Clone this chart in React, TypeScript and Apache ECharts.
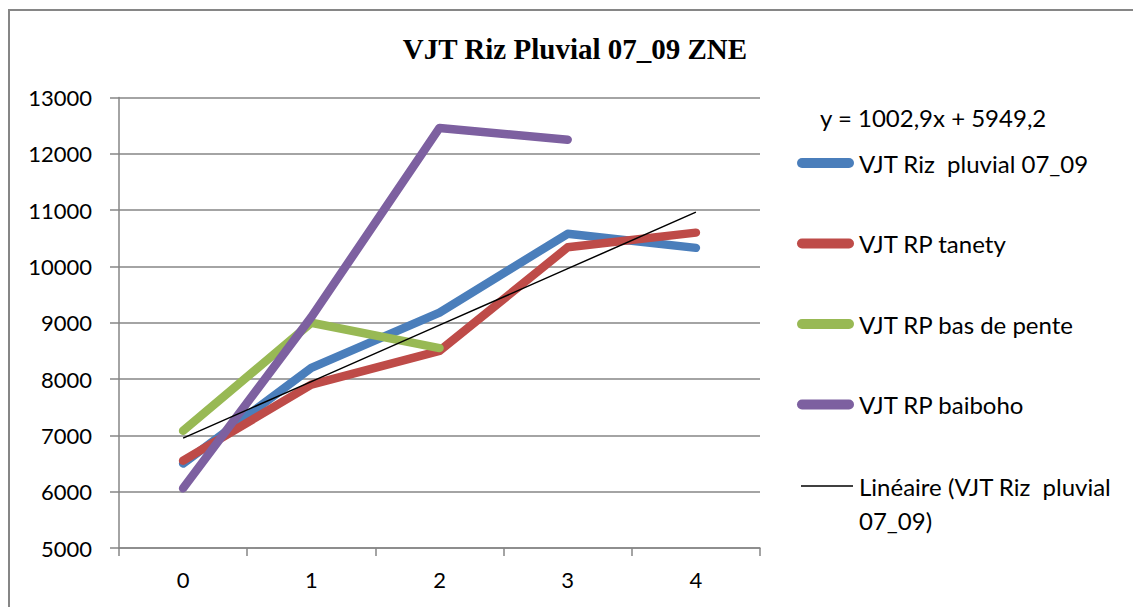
import React, { useEffect, useRef } from "react";
import * as echarts from "echarts";

const categories = ["0", "1", "2", "3", "4"];
const rizPluvial = [6500, 8200, 9180, 10580, 10330];
const rpTanety = [6550, 7900, 8500, 10340, 10600];
const rpBasDePente = [7080, 9000, 8550, null, null];
const rpBaiboho = [6060, 9100, 12460, 12250, null];
const trendValues = [6952.1, 7955.0, 8957.9, 9960.8, 10963.7];
const seriesNames = ["VJT Riz  pluvial 07_09", "VJT RP tanety", "VJT RP bas de pente", "VJT RP baiboho"];
const trendName = "Linéaire (VJT Riz  pluvial 07_09)";
const equationText = "y = 1002,9x + 5949,2";
const titleText = "VJT Riz Pluvial 07_09 ZNE";

const colors = ["#4A7EBB", "#BE4B48", "#98B954", "#7D60A0"];
const FONT = "Lato, 'Open Sans', sans-serif";
const capsule = "path://M5,0 L52,0 A5,5 0 0 1 52,10 L5,10 A5,5 0 0 1 5,0 Z";

export default function App() {
  const ref = useRef<HTMLDivElement>(null);
  useEffect(() => {
    document.body.style.margin = "0";
    const chart = echarts.init(ref.current!, null, { renderer: "svg" });
    const values = [rizPluvial, rpTanety, rpBasDePente, rpBaiboho];
    const lineSeries = values.map((d, i) => ({
      name: seriesNames[i],
      type: "line",
      data: d,
      symbol: "none",
      lineStyle: { color: colors[i], width: 8.5, cap: "round", join: "round" },
      itemStyle: { color: colors[i] },
      z: 2,
    }));
    chart.setOption({
      animation: false,
      backgroundColor: "#ffffff",
      grid: { left: 119, right: 373, top: 97.5, bottom: 59 },
      legend: {
        orient: "vertical",
        left: 792,
        top: 146,
        data: seriesNames.map((n) => ({ name: n, icon: capsule })),
        itemWidth: 57,
        itemHeight: 10,
        itemGap: 56.5,
        selectedMode: false,
        textStyle: { fontFamily: FONT, fontSize: 24, color: "#000", lineHeight: 24 },
      },
      xAxis: {
        type: "category",
        data: categories,
        boundaryGap: true,
        axisLine: { lineStyle: { color: "#868686", width: 1.5 } },
        axisTick: { show: true, alignWithLabel: false, length: 8, lineStyle: { color: "#868686", width: 1.5 } },
        axisLabel: { fontFamily: FONT, fontSize: 22, color: "#000", margin: 20 },
      },
      yAxis: {
        type: "value",
        min: 5000,
        max: 13000,
        interval: 1000,
        axisLine: { show: true, lineStyle: { color: "#868686", width: 1.5 } },
        axisTick: { show: true, length: 9, lineStyle: { color: "#868686", width: 1.5 } },
        splitLine: { lineStyle: { color: "#868686", width: 1.5 } },
        axisLabel: {
          fontFamily: FONT,
          fontSize: 22,
          color: "#000",
          margin: 27,
          formatter: (v: number) => String(v),
        },
      },
      series: [
        ...lineSeries,
        {
          name: trendName,
          type: "line",
          data: trendValues,
          symbol: "none",
          lineStyle: { color: "#000", width: 1.5 },
          z: 3,
        },
      ],
      graphic: [
        {
          type: "rect",
          shape: { x: 9, y: 10, width: 1200, height: 700 },
          style: { fill: "none", stroke: "#868686", lineWidth: 2 },
          z: -1,
        },
        {
          type: "text",
          x: 575,
          y: 49,
          style: {
            text: titleText,
            font: "bold 29px 'Liberation Serif', serif",
            fill: "#000",
            textAlign: "center",
            textVerticalAlign: "middle",
          },
        },
        {
          type: "text",
          x: 820,
          y: 117,
          style: {
            text: equationText,
            font: `24px ${FONT}`,
            fill: "#000",
            textAlign: "left",
            textVerticalAlign: "middle",
          },
        },
        {
          type: "line",
          shape: { x1: 801, y1: 486, x2: 853, y2: 486 },
          style: { stroke: "#000", lineWidth: 1.5 },
        },
        {
          type: "text",
          x: 859,
          y: 486,
          style: {
            text: "Linéaire (VJT Riz  pluvial",
            font: `24px ${FONT}`,
            fill: "#000",
            textAlign: "left",
            textVerticalAlign: "middle",
          },
        },
        {
          type: "text",
          x: 859,
          y: 520,
          style: {
            text: "07_09)",
            font: `24px ${FONT}`,
            fill: "#000",
            textAlign: "left",
            textVerticalAlign: "middle",
          },
        },
      ],
    });
    return () => chart.dispose();
  }, []);
  return <div ref={ref} style={{ width: 1133, height: 607 }} />;
}
